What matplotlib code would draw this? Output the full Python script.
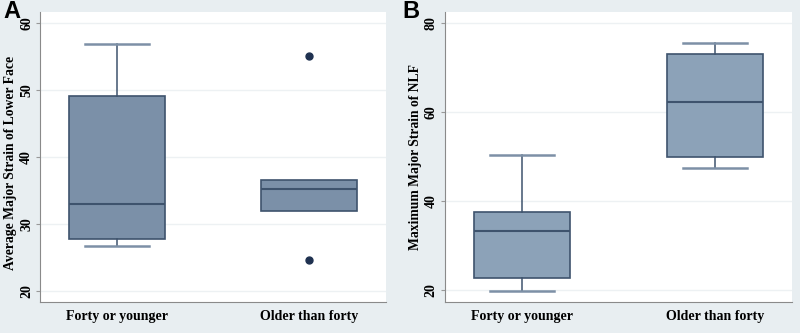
import numpy as np
import matplotlib.pyplot as plt

groups = ["Forty or younger", "Older than forty"]

# panel A: average major strain of lower face
a_q1 = [27.8, 32.0]
a_med = [33.0, 35.3]
a_q3 = [49.2, 36.6]
a_lo = [26.8, 32.0]
a_hi = [56.9, 36.6]
a_out = [[], [55.2, 24.7]]

# panel B: maximum major strain of NLF
b_q1 = [22.8, 49.9]
b_med = [33.3, 62.3]
b_q3 = [37.6, 73.1]
b_lo = [19.8, 47.5]
b_hi = [50.3, 75.5]
b_out = [[], []]

BG = '#e8eef1'
EDGE = '#3e536d'
CAP = '#7d90a6'


def stats(q1, med, q3, lo, hi, out):
    return [dict(q1=q1[i], med=med[i], q3=q3[i], whislo=lo[i], whishi=hi[i],
                 fliers=out[i]) for i in range(len(q1))]


def draw(ax, st, fill, ylabel, ylim, yticks, label_y=0.5):
    ax.set_facecolor('white')
    for y in yticks:
        ax.axhline(y, color='#edf1f3', lw=1.0, zorder=0)
    res = ax.bxp(st, positions=[1, 2], widths=0.5, patch_artist=True,
                 boxprops=dict(facecolor=fill, edgecolor=EDGE, lw=1.2),
                 medianprops=dict(color=EDGE, lw=1.5),
                 whiskerprops=dict(color=EDGE, lw=1.1),
                 capprops=dict(color=CAP, lw=1.8),
                 capwidths=0.33,
                 flierprops=dict(marker='o', markersize=5, markerfacecolor='#1f3150',
                                 markeredgecolor='#1f3150'))
    # no caps where the whisker ends at the box edge
    for i, s in enumerate(st):
        if s['whislo'] >= s['q1']:
            res['caps'][2 * i].set_visible(False)
        if s['whishi'] <= s['q3']:
            res['caps'][2 * i + 1].set_visible(False)
    ax.set_xlim(0.6, 2.4)
    ax.set_ylim(*ylim)
    ax.set_yticks(yticks)
    ax.set_yticklabels([str(y) for y in yticks], rotation=90, va='center',
                       fontfamily='Liberation Serif', fontweight='bold', fontsize=10)
    ax.set_xticks([1, 2])
    ax.set_xticklabels(groups, fontfamily='Liberation Serif', fontweight='bold', fontsize=10)
    ax.tick_params(axis='x', length=0, pad=6)
    ax.tick_params(axis='y', length=3, color='#999999', pad=2)
    ax.set_ylabel(ylabel, fontfamily='Liberation Serif', fontweight='bold', fontsize=9.8)
    ax.yaxis.set_label_coords(-0.066, label_y)
    for s in ['top', 'right']:
        ax.spines[s].set_visible(False)
    for s in ['left', 'bottom']:
        ax.spines[s].set_color('#8a8a8a')
        ax.spines[s].set_linewidth(0.8)


fig = plt.figure(figsize=(8, 3.33), dpi=100, facecolor=BG)
axA = fig.add_axes([0.05, 0.093, 0.4325, 0.871])
axB = fig.add_axes([0.556, 0.093, 0.434, 0.871])

draw(axA, stats(a_q1, a_med, a_q3, a_lo, a_hi, a_out), '#7b90a8',
     'Average Major Strain of Lower Face', (18.4, 61.7), [20, 30, 40, 50, 60], label_y=0.478)
draw(axB, stats(b_q1, b_med, b_q3, b_lo, b_hi, b_out), '#8ca2b8',
     'Maximum Major Strain of NLF', (17.3, 82.5), [20, 40, 60, 80])

fig.text(3 / 800, 1 - 12 / 333, 'A', fontsize=17, fontweight='bold',
         fontfamily='Liberation Sans', ha='left', va='center')
fig.text(402 / 800, 1 - 12 / 333, 'B', fontsize=17, fontweight='bold',
         fontfamily='Liberation Sans', ha='left', va='center')

fig.savefig('out.png', dpi=100, facecolor=BG)
